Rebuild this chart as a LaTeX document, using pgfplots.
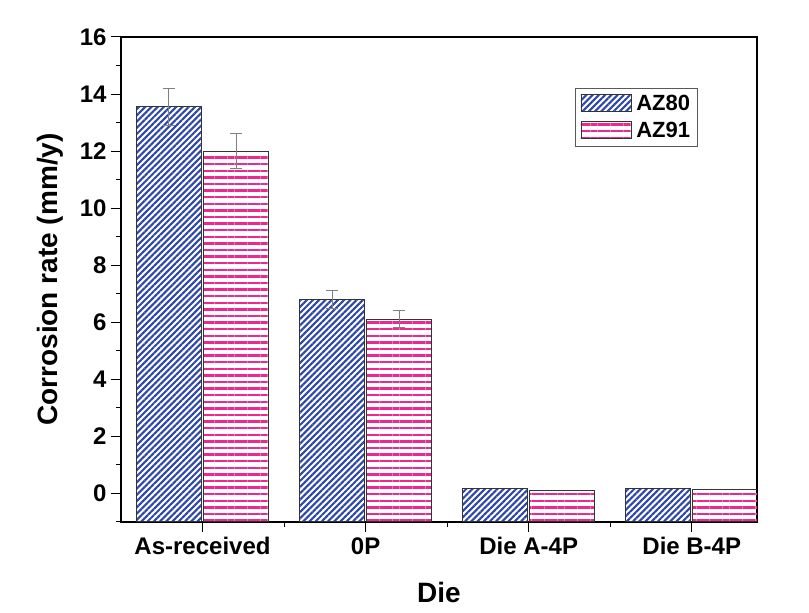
\documentclass[border=0pt]{standalone}
\usepackage{pgfplots}
\pgfplotsset{compat=1.18}
\usepackage{fontspec}
\setmainfont{Liberation Sans}
\usetikzlibrary{patterns.meta}
\definecolor{azblue}{RGB}{45,70,170}
\definecolor{azpink}{RGB}{238,40,140}
\begin{document}
\begin{tikzpicture}
\begin{axis}[
  scale only axis,
  width=636pt, height=485pt,
  xmin=-0.5, xmax=3.4,
  ymin=-1, ymax=16,
  y coord trafo/.code={\pgfmathparse{#1+1}},
  y coord inv trafo/.code={\pgfmathparse{#1-1}},
  ybar, bar width=0.4, bar shift auto,
  xtick={0,1,2,3},
  xticklabels={As-received,0P,Die A-4P,Die B-4P},
  minor xtick={0.5,1.5,2.5},
  ytick={0,2,4,6,8,10,12,14,16},
  yticklabels={0,2,4,6,8,10,12,14,16},
  minor ytick={-1,1,3,5,7,9,11,13,15},
  xtick pos=bottom, ytick pos=left,
  tick align=outside,
  major tick length=10pt, minor tick length=5pt,
  every tick/.style={black, line width=1pt},
  axis line style={line width=1.2pt},
  /pgf/number format/assume math mode=true,
  tick label style={font=\fontsize{24}{27}\selectfont\bfseries},
  xticklabel style={yshift=-2pt},
  yticklabel style={xshift=-1pt},
  xlabel={Die}, ylabel={Corrosion rate (mm/y)},
  label style={font=\fontsize{28}{32}\selectfont\bfseries},
  xlabel style={yshift=-20pt},
  ylabel style={yshift=10pt},
  legend style={at={(0.714,0.895)}, anchor=north west, draw=gray!70!black, line width=0.8pt,
    font=\fontsize{22}{26}\selectfont\bfseries, row sep=6pt, inner xsep=5pt, inner ysep=5pt},
  legend image code/.code={\draw[#1, draw=black!80, line width=0.8pt] (0pt,-8pt) rectangle (50pt,9pt);},
  legend cell align=left,
]
\addplot[draw=black!80, line width=1pt,
  pattern={Lines[angle=45,distance=4.4pt,line width=2.1pt]}, pattern color=azblue,
  error bars/.cd, y dir=both, y explicit, error bar style={gray, line width=1pt}, error mark options={rotate=90, mark size=6pt, gray, line width=1pt}]
  coordinates {(0,13.55) +- (0,0.65) (1,6.8) +- (0,0.33) (2,0.19) (3,0.18)};
\addplot[draw=black!80, line width=1pt,
  pattern={Lines[angle=0,distance=6.6pt,line width=2.4pt]}, pattern color=azpink,
  error bars/.cd, y dir=both, y explicit, error bar style={gray, line width=1pt}, error mark options={rotate=90, mark size=6pt, gray, line width=1pt}]
  coordinates {(0,12.0) +- (0,0.6) (1,6.1) +- (0,0.3) (2,0.1) (3,0.14)};
\legend{\hspace{3pt}AZ80,\hspace{3pt}AZ91}
\end{axis}
\pgfresetboundingbox
\path ([shift={(-121pt,-91pt)}]current axis.south west) rectangle ([shift={(52pt,37pt)}]current axis.north east);
\end{tikzpicture}
\end{document}
